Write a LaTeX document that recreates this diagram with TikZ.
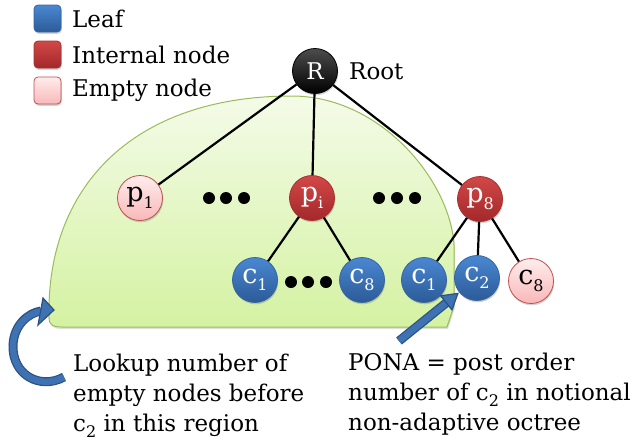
\documentclass[tikz,border=0pt]{standalone}
\usepackage{fontspec}
\setmainfont{DejaVu Serif}
\usetikzlibrary{shadows,calc}

\definecolor{leafTop}{HTML}{4A88D2}
\definecolor{leafBot}{HTML}{2C5A97}
\definecolor{leafLine}{HTML}{3565A3}
\definecolor{intTop}{HTML}{D24848}
\definecolor{intBot}{HTML}{A3282A}
\definecolor{intLine}{HTML}{A8302F}
\definecolor{empTop}{HTML}{FFEDED}
\definecolor{empBot}{HTML}{F8B8B8}
\definecolor{empLine}{HTML}{C0504D}
\definecolor{regTop}{HTML}{F4FBE8}
\definecolor{regBot}{HTML}{D4F2A2}
\definecolor{regLine}{HTML}{9BBB59}
\definecolor{arrFill}{HTML}{3F72B3}
\definecolor{arrLine}{HTML}{2B5282}

% small lowered index, used for p_1, c_2, ...
\newcommand{\sbs}[1]{\raisebox{-0.28em}{\fontsize{16}{16}\selectfont #1}}

\tikzset{
  shade3d/.style={drop shadow={shadow xshift=0.8pt, shadow yshift=-1.8pt, opacity=0.35}},
  ball/.style={circle, minimum size=45pt, inner sep=0pt, line width=0.8pt,
               font=\fontsize{27}{27}\selectfont, shade3d},
  leafcol/.style={draw=leafLine, top color=leafTop, bottom color=leafBot, text=white},
  intcol/.style={draw=intLine, top color=intTop, bottom color=intBot, text=white},
  empcol/.style={draw=empLine, top color=empTop, bottom color=empBot, text=black},
  leafnode/.style={ball, leafcol},
  intnode/.style={ball, intcol},
  empnode/.style={ball, empcol},
  rootnode/.style={ball, draw=black, top color=black!70, bottom color=black,
                   text=white, font=\fontsize{23}{23}\selectfont},
  legsq/.style={rectangle, rounded corners=4pt, minimum size=27pt, inner sep=0pt,
                line width=0.8pt, shade3d},
  legtext/.style={anchor=west, inner sep=0pt},
  note/.style={anchor=base west, align=left, inner sep=0pt},
  edge/.style={line width=2.2pt, black},
  region/.style={draw=regLine, line width=1pt, top color=regTop, bottom color=regBot,
                 drop shadow={shadow xshift=1pt, shadow yshift=-2pt, opacity=0.25}},
  dot/.style={fill=black},
  shaftout/.style={line width=9pt, arrLine},
  shaftin/.style={line width=6.5pt, arrFill},
  arrhead/.style={fill=arrFill, draw=arrLine, line width=1.2pt, line join=miter},
}

\begin{document}
\begin{tikzpicture}[x=1pt, y=-1pt, font=\fontsize{23}{30}\selectfont]
\useasboundingbox (0,0) rectangle (636,445);

% shaded region of the tree
\path[region] (49,318) .. controls (46,190) and (130,96) .. (292,96)
  .. controls (380,96) and (450,180) .. (454,245) -- (454,306) -- (447,327)
  -- (62,327) .. controls (52,327) and (49,324) .. cycle;

% legend
\node[legsq, leafcol] (lgleaf) at (47.5,18.5) {};
\node[legsq, intcol] (lgint) at (47.5,54.5) {};
\node[legsq, empcol] (lgemp) at (47.5,90.5) {};
\node[legtext] (tleaf) at (72,18.5) {Leaf};
\node[legtext] (tint) at (72,54.5) {Internal node};
\node[legtext] (temp) at (72,90.5) {Empty node};

% tree nodes
\node[rootnode] (R) at (315,71) {R};
\node[legtext] (troot) at (349,71) {Root};
\node[empnode] (p1) at (140,198) {p\sbs{1}};
\node[intnode] (pi) at (312,198) {p\sbs{i}};
\node[intnode] (p8) at (480,199) {p\sbs{8}};
\node[leafnode] (ca1) at (255,280) {c\sbs{1}};
\node[leafnode] (ca8) at (362,280) {c\sbs{8}};
\node[leafnode] (cb1) at (424,280) {c\sbs{1}};
\node[leafnode] (cb2) at (477,278) {c\sbs{2}};
\node[empnode] (cb8) at (531,281) {c\sbs{8}};

% edges
\draw[edge] (R) -- (p1);
\draw[edge] (R) -- (pi);
\draw[edge] (R) -- (p8);
\draw[edge] (pi) -- (ca1);
\draw[edge] (pi) -- (ca8);
\draw[edge] (p8) -- (cb1);
\draw[edge] (p8) -- (cb2);
\draw[edge] (p8) -- (cb8);

% ellipsis dots
\foreach \x in {209,226,244} \fill[dot] (\x,198) circle[radius=6pt];
\foreach \x in {379,397,415} \fill[dot] (\x,198) circle[radius=6pt];
\foreach \x in {291,308,326} \fill[dot] (\x,282) circle[radius=6pt];

% curved arrow into the region
\draw[shaftout] (64,377) .. controls (40,390) and (12,375) .. (13,345)
  .. controls (14,325) and (28,313) .. (41,311);
\draw[shaftin] (64,377) .. controls (40,390) and (12,375) .. (13,345)
  .. controls (14,325) and (28,313) .. (42,311);
\filldraw[arrhead] (43,298) -- (54,310) -- (38,325) -- cycle;

% straight arrow onto c_2
\coordinate (ptail) at (399,341);
\coordinate (ptip) at ($(cb2.center)!24.5pt!(ptail)$);
\coordinate (pbase) at ($(ptip)!15pt!(ptail)$);
\coordinate (pl) at ($(pbase)!9pt!90:(ptail)$);
\coordinate (pr) at ($(pbase)!9pt!-90:(ptail)$);
\draw[shaftout] (ptail) -- ($(pbase)!-1pt!(ptail)$);
\draw[shaftin] (ptail) -- ($(pbase)!-1pt!(ptail)$);
\filldraw[arrhead] (ptip) -- (pl) -- (pr) -- cycle;

% notes (base anchor sits on the last line)
\node[note] (lookup) at (73,431) {Lookup number of\\empty nodes before\\c\sbs{2} in this region};
\node[note] (pona) at (348,430) {PONA = post order\\number of c\sbs{2} in notional\\non-adaptive octree};
\end{tikzpicture}
\end{document}
